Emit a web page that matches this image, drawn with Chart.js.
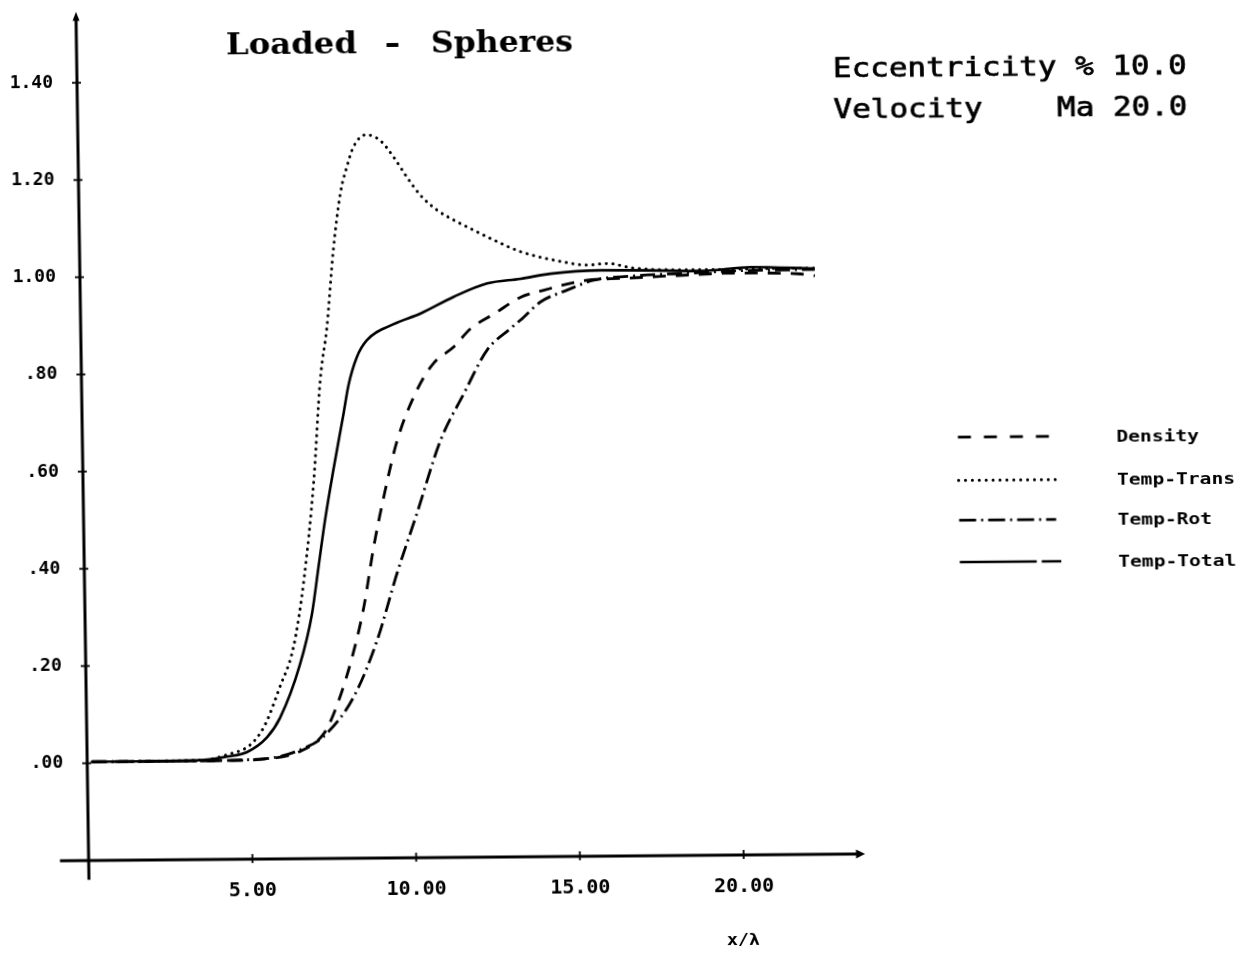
<!DOCTYPE html>
<html><head><meta charset="utf-8">
<script src="https://cdn.jsdelivr.net/npm/chart.js@4.4.1/dist/chart.umd.min.js"></script>
<style>
html,body{margin:0;padding:0;background:#fff;overflow:hidden;}
#wrap{position:absolute;left:0;top:0;width:1255px;height:955px;transform-origin:627.5px 477.5px;transform:matrix(1,-0.0085,0.015,1,0,0);}
</style></head><body>
<div id="wrap"><canvas id="c"></canvas></div>
<script>
// ---- data (x / lambda, normalised values) ----
const densityX = [0.15,4.02,5.52,6.52,7.23,7.54,8.07,8.51,8.84,9.17,9.61,10.24,10.76,11.38,11.90,12.67,13.44,14.15,15.49,16.51,18.24,19.97,22.01,22.44];
const densityY = [0.003,0.003,0.006,0.021,0.056,0.096,0.198,0.314,0.438,0.541,0.658,0.762,0.817,0.850,0.887,0.919,0.951,0.965,0.985,0.988,0.993,0.997,0.994,0.990];

const transX = [0.15,2.02,3.62,4.27,4.99,5.44,5.92,6.35,6.70,7.05,7.29,7.52,7.75,7.99,8.20,8.41,8.80,9.23,9.63,10.03,10.43,10.93,11.44,12.04,12.66,13.46,14.69,15.49,16.11,16.91,18.24,19.74,21.24,22.44];
const transY = [0.003,0.003,0.005,0.015,0.035,0.075,0.154,0.235,0.373,0.579,0.784,0.894,1.052,1.168,1.222,1.263,1.288,1.276,1.242,1.200,1.163,1.132,1.111,1.090,1.069,1.045,1.024,1.016,1.019,1.009,1.005,1.005,1.006,1.006];

const rotX = [0.15,4.02,4.67,5.69,6.51,7.23,8.16,8.91,9.55,10.18,10.93,11.67,12.40,13.12,13.43,14.05,14.87,15.69,16.92,18.74,20.24,22.44];
const rotY = [0.003,0.003,0.004,0.008,0.024,0.051,0.131,0.248,0.386,0.508,0.657,0.754,0.843,0.887,0.904,0.941,0.965,0.985,0.993,0.998,1.002,1.003];

const totalX = [0.15,2.02,3.62,4.27,4.88,5.50,5.91,6.54,6.93,7.15,7.38,7.65,7.99,8.15,8.42,8.73,9.56,10.37,11.40,12.43,13.45,14.37,15.91,17.43,18.94,20.49,22.42];
const totalY = [0.003,0.003,0.005,0.011,0.020,0.050,0.090,0.199,0.303,0.399,0.499,0.599,0.716,0.773,0.831,0.865,0.898,0.919,0.953,0.980,0.989,0.999,1.005,1.004,1.002,1.009,1.005];

const seriesLabels = ['Density','Temp-Trans','Temp-Rot','Temp-Total'];
const xTickValues = [5,10,15,20];
const xTickLabels = ['5.00','10.00','15.00','20.00'];
const yTickValues = [0,0.2,0.4,0.6,0.8,1.0,1.2,1.4];
const yTickLabels = ['.00','.20','.40','.60','.80','1.00','1.20','1.40'];

// axis extents
const X_MIN = -0.6412, X_MAX = 23.707, Y_MIN = -0.2399, Y_MAX = 1.5458;
const X_AXIS_LEFT = -0.876, X_AXIS_AT_Y = -0.2, Y_AXIS_AT_X = 0;

const zip = (xs, ys) => xs.map((v, i) => ({x: v, y: ys[i]}));

const MONO = '"DejaVu Sans Mono", "Liberation Mono", monospace';

function fitText(ctx, text, x, y, w, font, stroke) {
  ctx.font = font;
  const m = ctx.measureText(text).width;
  ctx.save();
  ctx.translate(x, y);
  ctx.scale(w / m, 1);
  ctx.fillText(text, 0, 0);
  if (stroke) { ctx.lineWidth = stroke; ctx.strokeText(text, 0, 0); }
  ctx.restore();
}

const bgPlugin = {
  id: 'bg',
  beforeDraw(chart) {
    const c = chart.ctx;
    c.save(); c.fillStyle = '#fff'; c.fillRect(0, 0, chart.width, chart.height); c.restore();
  }
};

const legendDash = [[13,13],[0.1,6.8],[17,5,2,5],[77,5,20]];

const decoPlugin = {
  id: 'deco',
  afterDatasetsDraw(chart) {
    const {ctx, scales: {x, y}} = chart;
    const x0 = x.getPixelForValue(Y_AXIS_AT_X);
    const yb = y.getPixelForValue(X_AXIS_AT_Y);
    const xl = x.getPixelForValue(X_AXIS_LEFT);
    const xr = x.getPixelForValue(X_MAX);
    const yt = y.getPixelForValue(Y_MAX);
    const ybot = y.getPixelForValue(Y_MIN);
    ctx.save();
    ctx.strokeStyle = '#000'; ctx.fillStyle = '#000';
    ctx.setLineDash([]);
    ctx.lineWidth = 3; ctx.lineCap = 'butt';
    ctx.beginPath();
    ctx.moveTo(xl, yb); ctx.lineTo(xr - 5, yb);
    ctx.moveTo(x0, ybot); ctx.lineTo(x0, yt + 5);
    ctx.stroke();
    // arrow heads
    ctx.beginPath(); ctx.moveTo(xr, yb); ctx.lineTo(xr - 9, yb - 4.5); ctx.lineTo(xr - 9, yb + 4.5); ctx.closePath(); ctx.fill();
    ctx.beginPath(); ctx.moveTo(x0, yt); ctx.lineTo(x0 - 3.5, yt + 9); ctx.lineTo(x0 + 3.5, yt + 9); ctx.closePath(); ctx.fill();
    // tick marks
    ctx.lineWidth = 1.8;
    xTickValues.forEach(v => { const p = x.getPixelForValue(v); ctx.beginPath(); ctx.moveTo(p, yb - 5); ctx.lineTo(p, yb + 4); ctx.stroke(); });
    yTickValues.forEach(v => { const p = y.getPixelForValue(v); ctx.beginPath(); ctx.moveTo(x0 - 5, p); ctx.lineTo(x0 + 4, p); ctx.stroke(); });

    // title
    ctx.textAlign = 'left'; ctx.textBaseline = 'alphabetic';
    const tf = 'bold 30px "DejaVu Serif", "Liberation Serif", serif';
    fitText(ctx, 'Loaded', 232.5, 50.5, 131, tf);
    fitText(ctx, '-', 391, 50.5, 16, tf);
    fitText(ctx, 'Spheres', 437.5, 50.5, 142, tf);

    // parameters
    const pf = '27px ' + MONO;
    fitText(ctx, 'Eccentricity % 10.0', 839, 78.5, 354, pf, 0.7);
    fitText(ctx, 'Velocity    Ma 20.0', 839, 120, 354, pf, 0.7);

    // legend
    const lf = 'bold 16px ' + MONO;
    ctx.font = lf;
    const sx = 118 / ctx.measureText('Temp-Trans').width;
    const rows = [440, 483.2, 523.2, 565];
    const ends = [1050.5, 1055.5, 1055.5, 1060];
    chart.data.datasets.forEach((ds, i) => {
      ctx.save();
      ctx.lineWidth = ds.borderWidth;
      ctx.lineCap = ds.borderCapStyle || 'butt';
      ctx.setLineDash(legendDash[i]);
      ctx.beginPath(); ctx.moveTo(958.5, rows[i]); ctx.lineTo(ends[i], rows[i]); ctx.stroke();
      ctx.restore();
      ctx.save(); ctx.translate(1117, rows[i] + 6); ctx.scale(sx, 1); ctx.font = lf; ctx.fillText(ds.label, 0, 0); ctx.restore();
    });

    // x axis title
    fitText(ctx, 'x/\u03bb', 720, 946, 33, 'bold 16px ' + MONO);
    ctx.restore();
  }
};

new Chart(document.getElementById('c'), {
  type: 'line',
  data: {
    datasets: [
      {label: seriesLabels[0], data: zip(densityX, densityY), borderColor: '#000', borderWidth: 2.8, borderDash: [13, 10]},
      {label: seriesLabels[1], data: zip(transX, transY), borderColor: '#000', borderWidth: 3, borderDash: [0.1, 6.6], borderCapStyle: 'round'},
      {label: seriesLabels[2], data: zip(rotX, rotY), borderColor: '#000', borderWidth: 2.8, borderDash: [15, 5, 2, 5]},
      {label: seriesLabels[3], data: zip(totalX, totalY), borderColor: '#000', borderWidth: 2.6, borderDash: []}
    ]
  },
  options: {
    responsive: true, maintainAspectRatio: false, animation: false, devicePixelRatio: 1,
    layout: {padding: {top: 7.3, right: 395.6, left: 0, bottom: 0}},
    elements: {point: {radius: 0}, line: {cubicInterpolationMode: 'monotone', fill: false}},
    plugins: {legend: {display: false}, title: {display: false}, tooltip: {enabled: false}},
    scales: {
      x: {
        type: 'linear', position: 'bottom', min: X_MIN, max: X_MAX,
        grid: {display: false, drawTicks: false}, border: {display: false},
        afterFit: s => { s.height = 79.7; s.paddingLeft = 0; s.paddingRight = 0; s.paddingTop = 0; s.paddingBottom = 0; },
        afterBuildTicks: s => { s.ticks = xTickValues.map(v => ({value: v})); },
        ticks: {padding: 0, color: '#000', autoSkip: false, maxRotation: 0,
          font: {family: MONO, size: 20, weight: 'bold'},
          callback: v => xTickLabels[xTickValues.indexOf(v)]}
      },
      y: {
        type: 'linear', position: 'left', min: Y_MIN, max: Y_MAX,
        grid: {display: false, drawTicks: false}, border: {display: false},
        afterFit: s => { s.width = 62; s.paddingTop = 0; s.paddingBottom = 0; s.paddingLeft = 0; s.paddingRight = 0; },
        afterBuildTicks: s => { s.ticks = yTickValues.map(v => ({value: v})); },
        ticks: {padding: 3, color: '#000', autoSkip: false,
          font: {family: MONO, size: 18, weight: 'bold'},
          callback: v => { const k = yTickValues.findIndex(t => Math.abs(t - v) < 1e-9); return yTickLabels[k]; }}
      }
    }
  },
  plugins: [bgPlugin, decoPlugin]
});
</script></body></html>
